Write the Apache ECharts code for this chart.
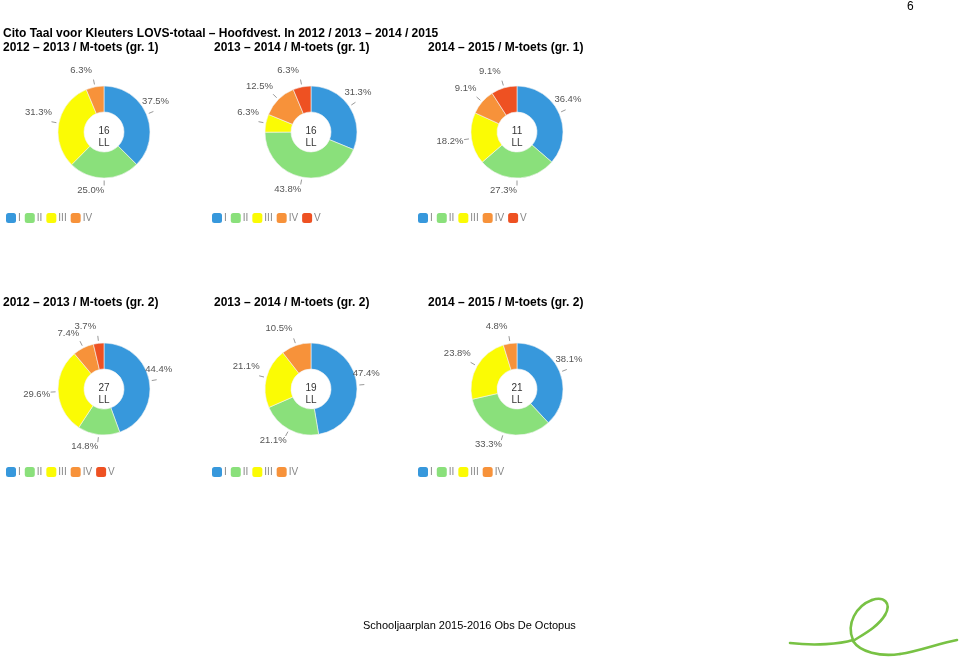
<!DOCTYPE html>
<html><head><meta charset="utf-8">
<script src="https://cdn.jsdelivr.net/npm/echarts@6/dist/echarts.min.js"></script>
<style>html,body{margin:0;padding:0;background:#fff}#c{width:960px;height:661px}</style>
</head><body><div id="c"></div>
<script>
// ---- data ----
const categories = ['I', 'II', 'III', 'IV', 'V'];
const pct_1213_gr1 = [37.5, 25.0, 31.3, 6.3];
const pct_1314_gr1 = [31.3, 43.8, 6.3, 12.5, 6.3];
const pct_1415_gr1 = [36.4, 27.3, 18.2, 9.1, 9.1];
const pct_1213_gr2 = [44.4, 14.8, 29.6, 7.4, 3.7];
const pct_1314_gr2 = [47.4, 21.1, 21.1, 10.5];
const pct_1415_gr2 = [38.1, 33.3, 23.8, 4.8];
const pupils = [16, 16, 11, 27, 19, 21];
const chartTitles = [
  '2012 – 2013 / M-toets (gr. 1)', '2013 – 2014 / M-toets (gr. 1)', '2014 – 2015 / M-toets (gr. 1)',
  '2012 – 2013 / M-toets (gr. 2)', '2013 – 2014 / M-toets (gr. 2)', '2014 – 2015 / M-toets (gr. 2)'
];
const mainTitle = 'Cito Taal voor Kleuters LOVS-totaal – Hoofdvest. In 2012 / 2013 – 2014 / 2015';
const footer = 'Schooljaarplan 2015-2016 Obs De Octopus';
const pageNo = '6';

// ---- layout / style ----
const colors = ['#3798dc', '#8ae07b', '#fbfb04', '#f7923a', '#ee5122'];
const allPct = [pct_1213_gr1, pct_1314_gr1, pct_1415_gr1, pct_1213_gr2, pct_1314_gr2, pct_1415_gr2];
const cx = [104, 311, 517];
const cy = [132, 389];
const titleX = [3, 214, 428];
const titleY = [47, 302];
const legendX = [6, 212, 418];
const legendY = [213, 467];
const R_IN = 20, R_OUT = 46, TICK0 = 48.5, TICK1 = 53.5, TICKM = 51;
const FONT = 'Liberation Sans, Arial, sans-serif';

function midAngle(k, i) {
  const arr = allPct[k];
  const tot = arr.reduce((a, b) => a + b, 0);
  let cum = 0;
  for (let j = 0; j < i; j++) cum += arr[j];
  return (cum + arr[i] / 2) / tot * 360; // clockwise from 12 o'clock
}

function makeLabelLayout(k, c) {
  return function (p) {
    const th = midAngle(k, p.dataIndex);
    const rad = th * Math.PI / 180;
    const ux = Math.sin(rad), uy = -Math.cos(rad);
    const pt = r => [c[0] + ux * r, c[1] + uy * r];
    const m = pt(TICKM);
    let x, y, align;
    if (th < 150) { align = 'left'; x = m[0] - 9; y = m[1] - 11; }
    else if (th <= 240) { align = 'right'; x = m[0]; y = m[1] + 7; }
    else if (th <= 272) { align = 'right'; x = m[0] - 3; y = m[1] + 2; }
    else if (th < 340) { align = 'right'; x = m[0] - 2; y = m[1] - 10; }
    else { align = 'right'; x = m[0] - 2; y = m[1] - 12; }
    return {x: x, y: y, align: align, verticalAlign: 'middle', labelLinePoints: [pt(TICK0), pt(TICK1)]};
  };
}

const series = [], legends = [], titles = [], graphics = [];
titles.push({text: mainTitle, left: 3, top: 28, textStyle: {fontFamily: FONT, fontSize: 12, fontWeight: 'bold', color: '#000'}, padding: 0});
allPct.forEach((arr, k) => {
  const col = k % 3, row = Math.floor(k / 3);
  const c = [cx[col], cy[row]];
  series.push({
    type: 'pie', center: c, radius: [R_IN, R_OUT],
    startAngle: 90, clockwise: true, silent: true, animation: false,
    color: colors,
    data: arr.map((v, i) => ({name: categories[i], value: v})),
    itemStyle: {borderColor: '#f4f4f4', borderWidth: 0.6},
    label: {show: true, position: 'outside', formatter: p => p.value.toFixed(1) + '%',
      fontFamily: FONT, fontSize: 9.5, color: '#555'},
    labelLine: {show: true, length: 5, length2: 0, lineStyle: {color: '#999', width: 1}},
    labelLayout: makeLabelLayout(k, c),
    emphasis: {disabled: true}
  });
  legends.push({
    left: legendX[col], top: legendY[row], itemWidth: 10, itemHeight: 10, itemGap: 4,
    icon: 'roundRect', selectedMode: false, padding: 0,
    itemStyle: {borderWidth: 0},
    data: categories.slice(0, arr.length),
    textStyle: {fontFamily: FONT, fontSize: 10, color: '#888', padding: [0, 0, 0, -3]}
  });
  titles.push({text: chartTitles[k], left: titleX[col], top: titleY[row] - 5, padding: 0,
    textStyle: {fontFamily: FONT, fontSize: 12, fontWeight: 'bold', color: '#000'}});
  graphics.push({type: 'text', x: cx[col], y: cy[row] + 5, silent: true,
    style: {text: pupils[k] + '\nLL', textAlign: 'center', textVerticalAlign: 'middle',
      fontFamily: FONT, fontSize: 10, lineHeight: 12, fill: '#333'}});
});
titles.push({text: pageNo, left: 907, top: 1, padding: 0, textStyle: {fontFamily: FONT, fontSize: 12, fontWeight: 'normal', color: '#000'}});
titles.push({text: footer, left: 363, top: 620, padding: 0, textStyle: {fontFamily: FONT, fontSize: 11, fontWeight: 'normal', color: '#000'}});
const logoCurves = [
  [790, 643, 815, 646, 840, 644, 853, 640],
  [853, 640, 846, 624, 856, 606, 872, 600],
  [872, 600, 884, 596, 892, 603, 885, 615],
  [885, 615, 878, 627, 862, 635, 853, 641],
  [853, 641, 860, 652, 880, 657, 900, 654],
  [900, 654, 920, 651, 940, 643, 957, 640]
];
logoCurves.forEach(c => graphics.push({type: 'bezierCurve', silent: true,
  shape: {x1: c[0], y1: c[1], cpx1: c[2], cpy1: c[3], cpx2: c[4], cpy2: c[5], x2: c[6], y2: c[7]},
  style: {fill: null, stroke: '#78c244', lineWidth: 2.6, lineCap: 'round'}}));

const chart = echarts.init(document.getElementById('c'), null, {renderer: 'canvas'});
chart.setOption({animation: false, backgroundColor: '#fff', title: titles, legend: legends, series: series, graphic: graphics});
</script></body></html>
